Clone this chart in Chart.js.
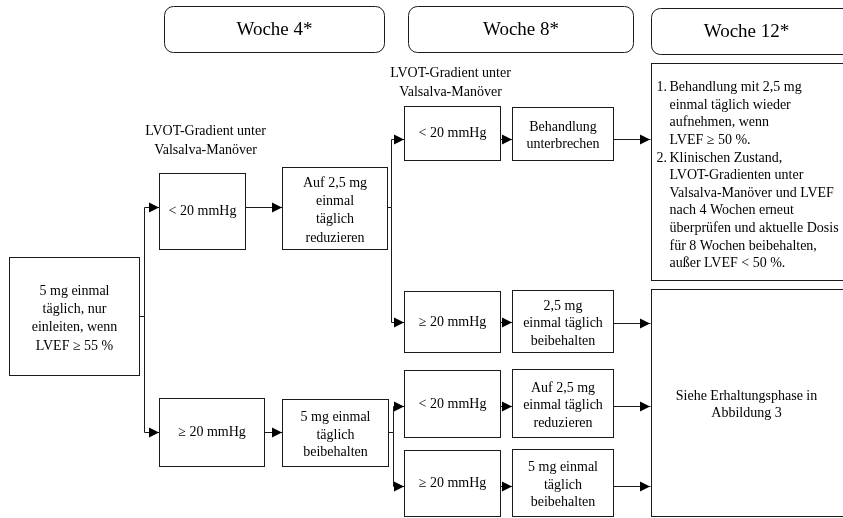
<!DOCTYPE html>
<html>
<head>
<meta charset="utf-8">
<script src="https://cdn.jsdelivr.net/npm/chart.js@4"></script>
<style>
  html, body { margin: 0; padding: 0; background: #fff; }
  #flow { display: block; }
</style>
</head>
<body>
<canvas id="flow" width="843" height="518"></canvas>
<script>
// header boxes (weeks)
const headerText = ['Woche 4*', 'Woche 8*', 'Woche 12*']
const headerBox = [[164, 6, 384, 52], [408, 6, 633, 52], [651, 8, 860, 54]]

// flow boxes: text lines and box corners [x0, y0, x1, y1]
const boxText = [
  ['5 mg einmal', 'täglich, nur', 'einleiten, wenn', 'LVEF ≥ 55 %'],
  ['< 20 mmHg'],
  ['≥ 20 mmHg'],
  ['Auf 2,5 mg', 'einmal', 'täglich', 'reduzieren'],
  ['5 mg einmal', 'täglich', 'beibehalten'],
  ['< 20 mmHg'],
  ['≥ 20 mmHg'],
  ['< 20 mmHg'],
  ['≥ 20 mmHg'],
  ['Behandlung', 'unterbrechen'],
  ['2,5 mg', 'einmal täglich', 'beibehalten'],
  ['Auf 2,5 mg', 'einmal täglich', 'reduzieren'],
  ['5 mg einmal', 'täglich', 'beibehalten'],
  ['Siehe Erhaltungsphase in', 'Abbildung 3']
]
const boxPos = [
  [9, 257, 139, 375],
  [159, 173, 245, 249],
  [159, 398, 264, 466],
  [282, 167, 387, 249],
  [282, 399, 388, 466],
  [404, 106, 500, 160],
  [404, 291, 500, 352],
  [404, 370, 500, 437],
  [404, 450, 500, 516],
  [512, 107, 613, 160],
  [512, 290, 613, 352],
  [512, 369, 613, 437],
  [512, 449, 613, 516],
  [651, 289, 860, 516]
]

// numbered list box (week 12)
const listItems = [
  ['Behandlung mit 2,5 mg', 'einmal täglich wieder', 'aufnehmen, wenn', 'LVEF ≥ 50 %.'],
  ['Klinischen Zustand,', 'LVOT-Gradienten unter', 'Valsalva-Manöver und LVEF', 'nach 4 Wochen erneut',
   'überprüfen und aktuelle Dosis', 'für 8 Wochen beibehalten,', 'außer LVEF < 50 %.']
]
const listBox = [651, 63, 860, 280]

// free labels
const labelText = [['LVOT-Gradient unter', 'Valsalva-Manöver'], ['LVOT-Gradient unter', 'Valsalva-Manöver']]
const labelPos = [[205, 131], [450, 73]]

// connectors, arrow at the last point
const links = [
  [[139, 316], [144, 316], [144, 207], [159, 207]],
  [[144, 316], [144, 432], [159, 432]],
  [[245, 207], [282, 207]],
  [[264, 432], [282, 432]],
  [[387, 207], [391, 207], [391, 139], [404, 139]],
  [[391, 207], [391, 322], [404, 322]],
  [[388, 432], [393, 432], [393, 406], [404, 406]],
  [[393, 432], [393, 486], [404, 486]],
  [[500, 139], [512, 139]],
  [[500, 322], [512, 322]],
  [[500, 406], [512, 406]],
  [[500, 486], [512, 486]],
  [[613, 139], [650, 139]],
  [[613, 323], [650, 323]],
  [[613, 406], [650, 406]],
  [[613, 486], [650, 486]]
]

const SERIF = '"Liberation Serif", "Times New Roman", serif'
const FONT = '14px ' + SERIF
const LINE_H = 17.6

const flowPlugin = {
  id: 'flow',
  afterDatasetsDraw(chart) {
    const ctx = chart.ctx
    const xs = chart.scales.x, ys = chart.scales.y
    const px = v => Math.round(xs.getPixelForValue(v)) + 0.5
    const py = v => Math.round(ys.getPixelForValue(v)) + 0.5
    ctx.save()
    ctx.strokeStyle = '#1a1a1a'
    ctx.lineWidth = 1
    ctx.fillStyle = '#000'
    ctx.textBaseline = 'middle'

    // headers
    ctx.font = '19px ' + SERIF
    ctx.textAlign = 'center'
    headerBox.forEach((b, i) => {
      const x0 = px(b[0]), y0 = py(b[1]), x1 = px(b[2]), y1 = py(b[3])
      ctx.beginPath()
      ctx.roundRect(x0, y0, x1 - x0, y1 - y0, 9)
      ctx.stroke()
      const cx = i == 2 ? x0 + 95 : (x0 + x1) / 2
      ctx.fillText(headerText[i], cx, (y0 + y1) / 2 + 1)
    })

    // boxes
    ctx.font = FONT
    boxPos.forEach((b, i) => {
      const x0 = px(b[0]), y0 = py(b[1]), x1 = px(b[2]), y1 = py(b[3])
      ctx.strokeRect(x0, y0, x1 - x0, y1 - y0)
      const lines = boxText[i]
      const cx = i == 13 ? x0 + 95 : (x0 + x1) / 2
      const lh = lines.length > 3 ? 18.3 : LINE_H
      const cy = (y0 + y1) / 2 + (lines.length > 1 ? 2 : 0)
      lines.forEach((t, k) => {
        ctx.fillText(t, cx, cy + (k - (lines.length - 1) / 2) * lh)
      })
    })

    // list box
    const lx0 = px(listBox[0]), ly0 = py(listBox[1]), lx1 = px(listBox[2]), ly1 = py(listBox[3])
    ctx.strokeRect(lx0, ly0, lx1 - lx0, ly1 - ly0)
    ctx.textAlign = 'left'
    let yy = ly0 + 24
    listItems.forEach((item, i) => {
      ctx.fillText((i + 1) + '.', lx0 + 5, yy)
      item.forEach(t => {
        ctx.fillText(t, lx0 + 18, yy)
        yy += LINE_H
      })
    })

    // labels
    ctx.textAlign = 'center'
    labelText.forEach((lines, i) => {
      lines.forEach((t, k) => {
        ctx.fillText(t, px(labelPos[i][0]), py(labelPos[i][1]) + k * 19)
      })
    })

    // connectors with arrow heads
    links.forEach(path => {
      ctx.beginPath()
      path.forEach((p, k) => {
        if (k == 0) ctx.moveTo(px(p[0]), py(p[1]))
        else ctx.lineTo(px(p[0]), py(p[1]))
      })
      ctx.stroke()
      const end = path[path.length - 1]
      const ex = px(end[0]) - 0.5, ey = py(end[1])
      ctx.beginPath()
      ctx.moveTo(ex, ey)
      ctx.lineTo(ex - 10, ey - 5)
      ctx.lineTo(ex - 10, ey + 5)
      ctx.closePath()
      ctx.fill()
    })
    ctx.restore()
  }
}

new Chart(document.getElementById('flow'), {
  type: 'scatter',
  data: { datasets: [{ data: [], pointRadius: 0 }] },
  options: {
    responsive: false,
    animation: false,
    layout: { padding: 0 },
    plugins: { legend: { display: false }, tooltip: { enabled: false } },
    scales: {
      x: { type: 'linear', min: 0, max: 843, display: false },
      y: { type: 'linear', min: 0, max: 518, reverse: true, display: false }
    }
  },
  plugins: [flowPlugin]
})
</script>
</body>
</html>
